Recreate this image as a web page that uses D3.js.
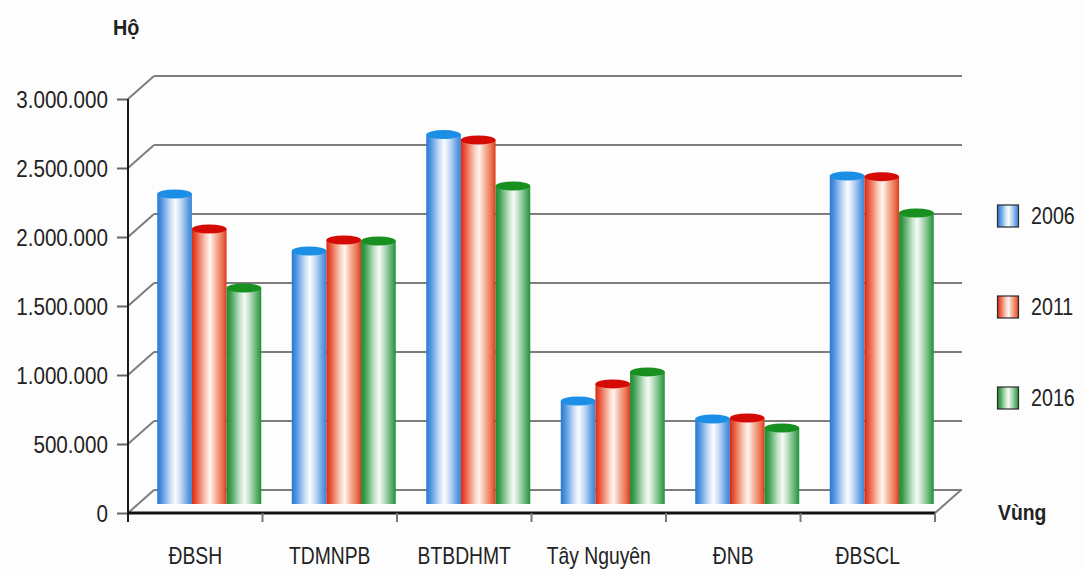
<!DOCTYPE html>
<html>
<head>
<meta charset="utf-8">
<script src="https://cdn.jsdelivr.net/npm/d3@7"></script>
<style>
  html, body { margin: 0; padding: 0; background: #fdfdfd; }
  svg { display: block; }
  text { font-family: "Liberation Sans", Arial, sans-serif; fill: #222; }
</style>
</head>
<body>
<svg id="chart" width="1083" height="570"></svg>
<script>
// Số hộ theo vùng, 2006 - 2011 - 2016
const categories = ["ĐBSH", "TDMNPB", "BTBDHMT", "Tây Nguyên", "ĐNB", "ĐBSCL"];
const years = ["2006", "2011", "2016"];
const households2006 = [2246000, 1833000, 2677000, 746000, 616000, 2377000];
const households2011 = [1993000, 1913000, 2638000, 870000, 623000, 2372000];
const households2016 = [1565000, 1906000, 2304000, 957000, 551000, 2109000];
const yTickValues = [0, 500000, 1000000, 1500000, 2000000, 2500000, 3000000];
const yAxisTitle = "Hộ";
const xAxisTitle = "Vùng";

const seriesValues = [households2006, households2011, households2016];

const svg = d3.select("#chart");

// layout of the pseudo-3D frame
const frontLeft = 128, frontRight = 935, frontBottom = 513, frontTop = 99;
const depthDx = 26, depthDy = -23;        // offset from front plane to back wall
const barDx = 14, barDy = -9;             // plane in which the cylinders stand
const barGroupWidth = 104;
const scaleX = 0.86;                      // condensed lettering

const x = d3.scaleBand().domain(categories).range([frontLeft, frontRight]).padding(0);
const xs = d3.scaleBand().domain(years).range([0, barGroupWidth]).padding(0);
const y = d3.scaleLinear().domain([0, 3000000]).range([frontBottom, frontTop]);

const fmt = v => d3.format(",")(v).replace(/,/g, ".");

// gradients for cylinders
const palettes = {
  "2006": { top: "#1b8fe6", stops: [["0%", "#2a78d2"], ["12%", "#4b92e0"], ["38%", "#c9ddf6"], ["52%", "#fbfdff"], ["68%", "#c4daf4"], ["90%", "#5b9be2"], ["100%", "#3a84d8"]] },
  "2011": { top: "#d60a05", stops: [["0%", "#d92a14"], ["12%", "#e9553a"], ["38%", "#f8c7b5"], ["52%", "#fff6f2"], ["68%", "#f6b8a0"], ["90%", "#ea6a48"], ["100%", "#d63a22"]] },
  "2016": { top: "#17901f", stops: [["0%", "#1c8a30"], ["12%", "#3fa052"], ["38%", "#c2e2c6"], ["52%", "#f6fbf6"], ["68%", "#b7dbbd"], ["90%", "#4eaa60"], ["100%", "#238f36"]] }
};
const defs = svg.append("defs");
years.forEach(yr => {
  const g = defs.append("linearGradient").attr("id", "grad" + yr)
    .attr("x1", "0%").attr("x2", "100%").attr("y1", "0%").attr("y2", "0%");
  palettes[yr].stops.forEach(([o, c]) => g.append("stop").attr("offset", o).attr("stop-color", c));
});

// back wall gridlines with diagonal connectors
const grid = svg.append("g").attr("stroke", "#7d7d7d").attr("stroke-width", 2).attr("fill", "none");
yTickValues.forEach(v => {
  grid.append("line")
    .attr("x1", frontLeft).attr("y1", y(v))
    .attr("x2", frontLeft + depthDx).attr("y2", y(v) + depthDy);
  grid.append("line")
    .attr("x1", frontLeft + depthDx).attr("y1", y(v) + depthDy)
    .attr("x2", frontRight + depthDx + 1).attr("y2", y(v) + depthDy);
});
// right edge of the floor
grid.append("line")
  .attr("x1", frontRight).attr("y1", y(0))
  .attr("x2", frontRight + depthDx).attr("y2", y(0) + depthDy);

// cylinders
const bars = svg.append("g");
categories.forEach((cat, ci) => {
  years.forEach((yr, si) => {
    const v = seriesValues[si][ci];
    const left = x(cat) + (x.bandwidth() - barGroupWidth) / 2 + barDx + xs(yr);
    const w = xs.bandwidth();
    const top = y(v) + barDy;
    const bottom = y(0) + barDy;
    bars.append("rect")
      .attr("x", left).attr("y", top)
      .attr("width", w).attr("height", bottom - top)
      .attr("fill", `url(#grad${yr})`);
    bars.append("ellipse")
      .attr("cx", left + w / 2).attr("cy", top)
      .attr("rx", w / 2).attr("ry", 4.5)
      .attr("fill", palettes[yr].top);
  });
});

// front axes
const yAxis = d3.axisLeft(y).tickValues(yTickValues).tickSize(11).tickPadding(0).tickFormat(fmt);
const yAxisG = svg.append("g").attr("transform", `translate(${frontLeft},0)`).call(yAxis);
yAxisG.select(".domain").remove();
yAxisG.selectAll(".tick line").attr("stroke", "#666").attr("stroke-width", 2);
yAxisG.selectAll(".tick text")
  .attr("x", -20 / scaleX)
  .attr("dy", "0.36em")
  .attr("transform", `scale(${scaleX},1)`)
  .style("font-size", "24px")
  .style("font-family", "'Liberation Sans', Arial, sans-serif")
  .attr("fill", "#2a2a2a");

svg.append("line")
  .attr("x1", frontLeft).attr("x2", frontLeft)
  .attr("y1", y(3000000)).attr("y2", y(0) + 9)
  .attr("stroke", "#1a1a1a").attr("stroke-width", 2);
svg.append("line")
  .attr("x1", frontLeft).attr("x2", frontRight)
  .attr("y1", y(0)).attr("y2", y(0))
  .attr("stroke", "#111").attr("stroke-width", 3);

// category boundary ticks
const boundaries = categories.map(c => x(c)).concat([x(categories[categories.length - 1]) + x.bandwidth()]);
svg.append("g").selectAll("line").data(boundaries.slice(1)).join("line")
  .attr("x1", d => d).attr("x2", d => d)
  .attr("y1", y(0)).attr("y2", y(0) + 9)
  .attr("stroke", "#777").attr("stroke-width", 2);

// category labels
svg.append("g").selectAll("text").data(categories).join("text")
  .attr("transform", d => `translate(${x(d) + x.bandwidth() / 2},564) scale(0.84,1)`)
  .attr("text-anchor", "middle")
  .style("font-size", "23px")
  .text(d => d);

// axis titles
svg.append("text")
  .attr("transform", `translate(113,35) scale(0.9,1)`)
  .style("font-size", "22px").style("font-weight", "bold").attr("fill", "#111")
  .text(yAxisTitle);
svg.append("text")
  .attr("transform", `translate(998,520) scale(0.88,1)`)
  .style("font-size", "22px").style("font-weight", "bold").attr("fill", "#111")
  .text(xAxisTitle);

// legend
const ly = d3.scalePoint().domain(years).range([216, 398]);
const legend = svg.append("g");
years.forEach(yr => {
  legend.append("rect")
    .attr("x", 997.5).attr("y", ly(yr) - 11)
    .attr("width", 21).attr("height", 22)
    .attr("fill", `url(#grad${yr})`)
    .attr("stroke", "#2b2b2b").attr("stroke-width", 1.2);
  legend.append("text")
    .attr("transform", `translate(1031,${ly(yr) + 8}) scale(0.82,1)`)
    .style("font-size", "24px")
    .text(yr);
});
</script>
</body>
</html>
